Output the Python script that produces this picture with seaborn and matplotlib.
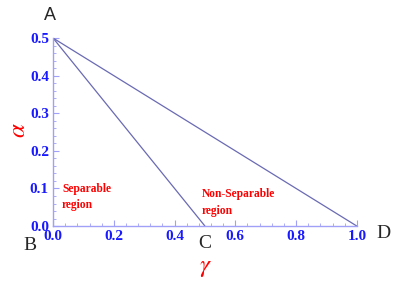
import numpy as np
import pandas as pd
import matplotlib
matplotlib.use("Agg")
import matplotlib.pyplot as plt
import seaborn as sns
from matplotlib.ticker import MultipleLocator

# boundary lines of the regions
gamma_ac = [0.0, 0.5]
alpha_ac = [0.5, 0.0]
gamma_ad = [0.0, 1.0]
alpha_ad = [0.5, 0.0]

x_ticks = [0.0, 0.2, 0.4, 0.6, 0.8, 1.0]
y_ticks = [0.0, 0.1, 0.2, 0.3, 0.4, 0.5]

df = pd.concat([
    pd.DataFrame({"gamma": gamma_ac, "alpha": alpha_ac, "line": "AC"}),
    pd.DataFrame({"gamma": gamma_ad, "alpha": alpha_ad, "line": "AD"}),
])

sns.set_style("ticks")
plt.rcParams["font.family"] = ["Liberation Serif", "DejaVu Serif"]
plt.rcParams["mathtext.fontset"] = "stix"
axis_col = "#a0a0f8"
tick_col = "#1a1aff"
line_col = "#6a6ab4"

fig = plt.figure(figsize=(3.93, 2.84), dpi=100)
ax = fig.add_axes([0.135, 0.204, 0.773, 0.662])

sns.lineplot(data=df, x="gamma", y="alpha", units="line", estimator=None,
             color=line_col, lw=0.9, ax=ax, sort=False)

ax.set_xlim(0, 1.0)
ax.set_ylim(0, 0.5)
ax.set_xticks(x_ticks)
ax.set_yticks(y_ticks)
ax.set_xticklabels([f"{v:.1f}" for v in x_ticks])
ax.set_yticklabels([f"{v:.1f}" for v in y_ticks])
ax.xaxis.set_minor_locator(MultipleLocator(0.04))
ax.yaxis.set_minor_locator(MultipleLocator(0.02))

for s in ["top", "right"]:
    ax.spines[s].set_visible(False)
for s in ["left", "bottom"]:
    ax.spines[s].set_color(axis_col)
    ax.spines[s].set_linewidth(1.0)

ax.tick_params(which="major", direction="in", length=4, width=0.8,
               color=axis_col, labelcolor=tick_col, pad=3)
ax.tick_params(which="minor", direction="in", length=2, width=0.6,
               color=axis_col)
for lab in ax.get_xticklabels() + ax.get_yticklabels():
    lab.set_fontweight("bold")
    lab.set_fontsize(11)

ax.set_xlabel("")
ax.set_ylabel("")
fig.text(0.522, 0.055, r"$\gamma$", color="red", fontsize=18, ha="center", va="center")
fig.text(0.048, 0.54, r"$\alpha$", color="red", fontsize=18, ha="center", va="center",
         rotation=90)

fig.text(0.128, 0.945, "A", fontsize=13, family="Liberation Sans", ha="center", va="center")
fig.text(0.077, 0.135, "B", fontsize=14, ha="center", va="center")
fig.text(0.522, 0.143, "C", fontsize=14, ha="center", va="center")
fig.text(0.975, 0.178, "D", fontsize=14, ha="center", va="center")

ax.text(0.03, 0.115, "Separable\nregion", color="red", fontsize=8.3,
        fontweight="bold", va="top", ha="left", linespacing=1.5)
ax.text(0.49, 0.1, "Non-Separable\nregion", color="red", fontsize=8.3,
        fontweight="bold", va="top", ha="left", linespacing=1.5)

fig.savefig("out.png", dpi=100)
